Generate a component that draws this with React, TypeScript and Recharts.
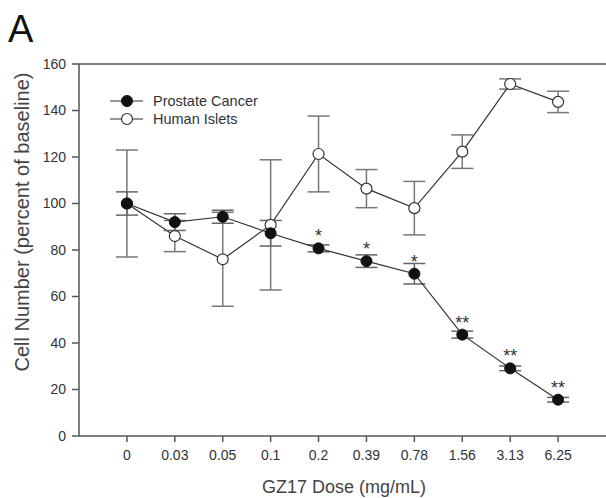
import React from "react";
import {
  LineChart,
  Line,
  XAxis,
  YAxis,
  ErrorBar,
  ReferenceLine,
  LabelList,
} from "recharts";

const doses = ["0", "0.03", "0.05", "0.1", "0.2", "0.39", "0.78", "1.56", "3.13", "6.25"];
const prostate = [100, 92, 94.3, 87.2, 80.7, 75.2, 69.8, 43.6, 29.1, 15.6];
const prostateErr = [5, 3.6, 2.8, 5.5, 1.5, 2.7, 4.4, 1.5, 1, 1];
const islets = [100, 86, 76, 90.8, 121.3, 106.4, 98, 122.3, 151.4, 143.7];
const isletsErr = [23, 6.7, 20.2, 28, 16.3, 8.2, 11.5, 7.2, 2.2, 4.6];
const significance = ["", "", "", "", "*", "*", "*", "**", "**", "**"];
const yTicks = [0, 20, 40, 60, 80, 100, 120, 140, 160];

const data = doses.map((d, i) => ({
  x: i,
  dose: d,
  pc: prostate[i],
  pcErr: prostateErr[i],
  hi: islets[i],
  hiErr: isletsErr[i],
  sig: significance[i],
}));

const FONT = "'Liberation Sans', Arial, sans-serif";
const AXIS = "#555";

const Star = (props: any) => {
  const { x, y, value } = props;
  if (!value) return null;
  return (
    <text x={x} y={y - 6} textAnchor="middle" fontSize={18} fontFamily={FONT} fill="#333">
      {value}
    </text>
  );
};

const FilledDot = (props: any) => {
  const { cx, cy, index } = props;
  return <circle key={"pc" + index} cx={cx} cy={cy} r={5.5} fill="#111" stroke="#111" strokeWidth={1} />;
};
const OpenDot = (props: any) => {
  const { cx, cy, index } = props;
  return <circle key={"hi" + index} cx={cx} cy={cy} r={5.5} fill="#fff" stroke="#333" strokeWidth={1.2} />;
};

export default function App() {
  return (
    <div style={{ position: "absolute", left: 0, top: 0, width: 606, height: 498, background: "#fff" }}>
      <LineChart
        width={606}
        height={498}
        data={data}
        margin={{ top: 64, right: 0, bottom: 0, left: 0 }}
      >
        <XAxis
          dataKey="x"
          type="number"
          domain={[-1, 10]}
          ticks={[0, 1, 2, 3, 4, 5, 6, 7, 8, 9]}
          tickFormatter={(v: number) => doses[v]}
          height={62}
          stroke={AXIS}
          strokeWidth={1.5}
          tickSize={6}
          tickMargin={8}
          tick={{ fontSize: 14, fontFamily: FONT, fill: "#333" }}
          allowDataOverflow
        />
        <YAxis
          type="number"
          domain={[0, 160]}
          ticks={yTicks}
          width={79}
          stroke={AXIS}
          strokeWidth={1.5}
          tickSize={7}
          tickMargin={6}
          tick={{ fontSize: 14, fontFamily: FONT, fill: "#333" }}
          allowDataOverflow
        />
        <ReferenceLine y={160} stroke={AXIS} strokeWidth={1.5} />
        <Line
          dataKey="hi"
          stroke="#333"
          strokeWidth={1.2}
          dot={<OpenDot />}
          activeDot={false}
          isAnimationActive={false}
        >
          <ErrorBar dataKey="hiErr" width={11} stroke="#777" strokeWidth={1.5} direction="y" />
        </Line>
        <Line
          dataKey="pc"
          stroke="#333"
          strokeWidth={1.2}
          dot={<FilledDot />}
          activeDot={false}
          isAnimationActive={false}
        >
          <ErrorBar dataKey="pcErr" width={11} stroke="#666" strokeWidth={1.5} direction="y" />
          <LabelList dataKey="sig" content={<Star />} />
        </Line>
      </LineChart>
      <svg
        width={606}
        height={498}
        style={{ position: "absolute", left: 0, top: 0, pointerEvents: "none" }}
      >
        <text x={8} y={42} fontSize={38} fontFamily={FONT} fill="#111">A</text>
        <text
          transform="translate(22,222) rotate(-90)"
          textAnchor="middle"
          dominantBaseline="central"
          fontSize={20}
          fontFamily={FONT}
          fill="#444"
        >
          Cell Number (percent of baseline)
        </text>
        <text x={344} y={493} textAnchor="middle" fontSize={18} fontFamily={FONT} fill="#444">
          GZ17 Dose (mg/mL)
        </text>
        <line x1={110} y1={101} x2={143} y2={101} stroke="#333" strokeWidth={1.2} />
        <circle cx={127} cy={101} r={5.5} fill="#111" stroke="#111" />
        <text x={153} y={106} fontSize={14.5} fontFamily={FONT} fill="#333">Prostate Cancer</text>
        <line x1={110} y1={119} x2={143} y2={119} stroke="#333" strokeWidth={1.2} />
        <circle cx={127} cy={119} r={5.5} fill="#fff" stroke="#333" strokeWidth={1.2} />
        <text x={153} y={124} fontSize={14.5} fontFamily={FONT} fill="#333">Human Islets</text>
      </svg>
    </div>
  );
}
